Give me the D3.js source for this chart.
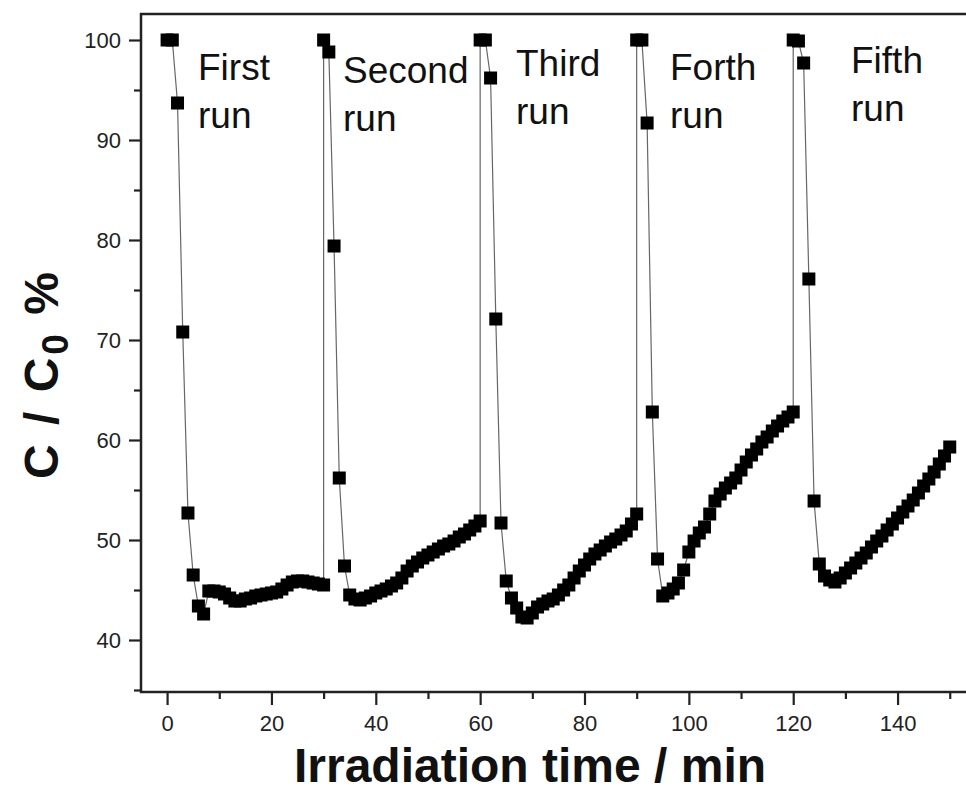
<!DOCTYPE html>
<html lang="en">
<head>
<meta charset="UTF-8">
<title>Irradiation cycles</title>
<script src="https://d3js.org/d3.v7.min.js"></script>
<style>
    body { margin: 0; padding: 0; background: #fff; }
    svg { display: block; font-family: Arial, "Liberation Sans", sans-serif; }
    .tick-label { font-size: 22px; fill: #222; }
    .run-label { font-size: 37px; fill: #111; }
    .axis-title { font-size: 48px; font-weight: bold; fill: #111; }
</style>
</head>
<body>
<div id="chart"></div>
<script>
// C/C0 (%) sampled every minute, 31 samples per run (t = 0..30 within the run)
const run1 = [100, 100, 93.7, 70.8, 52.7, 46.5, 43.4, 42.6, 44.9, 44.9, 44.8, 44.6, 44.2, 43.9, 43.9, 44.1,
              44.2, 44.4, 44.5, 44.6, 44.7, 44.8, 45.1, 45.5, 45.8, 45.9, 45.9, 45.8, 45.7, 45.6, 45.5];
const run2 = [100, 98.8, 79.4, 56.2, 47.4, 44.5, 44.1, 44.0, 44.2, 44.4, 44.7, 44.9, 45.1, 45.4, 45.7, 46.2,
              46.9, 47.4, 47.8, 48.2, 48.5, 48.8, 49.1, 49.4, 49.6, 49.9, 50.3, 50.6, 51.0, 51.4, 51.9];
const run3 = [100, 100, 96.2, 72.1, 51.7, 45.9, 44.2, 43.2, 42.3, 42.2, 42.7, 43.3, 43.6, 43.9, 44.1, 44.5,
              45.0, 45.5, 46.2, 46.9, 47.5, 48.1, 48.6, 49.0, 49.4, 49.8, 50.1, 50.5, 50.9, 51.6, 52.6];
const run4 = [100, 100, 91.7, 62.8, 48.1, 44.4, 44.7, 45.1, 45.7, 47.0, 48.8, 49.9, 50.7, 51.3, 52.6, 53.9,
              54.6, 55.2, 55.7, 56.2, 57.0, 57.8, 58.5, 59.1, 59.8, 60.3, 60.9, 61.4, 61.9, 62.3, 62.8];
const run5 = [100, 99.9, 97.7, 76.1, 53.9, 47.6, 46.4, 46.0, 45.8, 46.2, 46.7, 47.2, 47.7, 48.2, 48.7, 49.3,
              49.9, 50.4, 51.0, 51.6, 52.2, 52.8, 53.4, 54.0, 54.7, 55.4, 56.1, 56.8, 57.6, 58.4, 59.3];
const runs = [run1, run2, run3, run4, run5];
const runLength = 30; // minutes per run
const runLabels = [["First", "run"], ["Second", "run"], ["Third", "run"], ["Forth", "run"], ["Fifth", "run"]];
const xTicks = [0, 20, 40, 60, 80, 100, 120, 140];
const yTicks = [40, 50, 60, 70, 80, 90, 100];

const width = 966, height = 793;
const margin = { left: 141, top: 14, right: -2, bottom: 101 };

const svg = d3.select("#chart").append("svg")
    .attr("width", width)
    .attr("height", height);

const x = d3.scaleLinear()
    .domain([-5, 153.5])
    .range([margin.left, width - margin.right]);
const y = d3.scaleLinear()
    .domain([34.8, 102.6])
    .range([height - margin.bottom, margin.top]);

// flatten runs into one time series
const points = [];
runs.forEach((vals, k) => {
    vals.forEach((v, i) => points.push({ t: k * runLength + i, v: v }));
});

// axes
const xAxis = d3.axisBottom(x).tickValues(xTicks).tickSize(13).tickPadding(10).tickSizeOuter(0);
const xMinor = d3.axisBottom(x).tickValues(d3.range(10, 151, 20)).tickSize(7).tickFormat("").tickSizeOuter(0);
const yAxis = d3.axisLeft(y).tickValues(yTicks).tickSize(12).tickPadding(8).tickSizeOuter(0);
const yMinor = d3.axisLeft(y).tickValues(d3.range(35, 101, 10)).tickSize(7).tickFormat("").tickSizeOuter(0);

const gx = svg.append("g").attr("transform", `translate(0,${y.range()[0]})`);
gx.call(xAxis);
gx.append("g").call(xMinor);
const gy = svg.append("g").attr("transform", `translate(${x.range()[0]},0)`);
gy.call(yAxis);
gy.append("g").call(yMinor);

svg.selectAll(".domain").remove();
svg.selectAll(".tick line").attr("stroke", "#222").attr("stroke-width", 2.2);
svg.selectAll(".tick text").attr("class", "tick-label").attr("font-family", null).attr("font-size", null);

// frame
svg.append("rect")
    .attr("x", x.range()[0])
    .attr("y", y.range()[1])
    .attr("width", x.range()[1] - x.range()[0])
    .attr("height", y.range()[0] - y.range()[1])
    .attr("fill", "none")
    .attr("stroke", "#222")
    .attr("stroke-width", 2.5);

// connecting line
const line = d3.line().x(d => x(d.t)).y(d => y(d.v));
svg.append("path")
    .datum(points)
    .attr("d", line)
    .attr("fill", "none")
    .attr("stroke", "#666")
    .attr("stroke-width", 1.2);

// square markers
const ms = 13;
svg.append("g").selectAll("rect")
    .data(points)
    .join("rect")
    .attr("x", d => x(d.t) - ms / 2)
    .attr("y", d => y(d.v) - ms / 2)
    .attr("width", ms)
    .attr("height", ms)
    .attr("fill", "#000");

// run labels
const labelPos = [[198, 80], [343, 83], [516, 76], [670, 80], [851, 73]];
runLabels.forEach((lines, k) => {
    const t = svg.append("text").attr("class", "run-label")
        .attr("x", labelPos[k][0]).attr("y", labelPos[k][1]);
    lines.forEach((s, j) => {
        t.append("tspan").attr("x", labelPos[k][0]).attr("dy", j === 0 ? 0 : 48).text(s);
    });
});

// axis titles
svg.append("text").attr("class", "axis-title")
    .attr("x", 530).attr("y", 782)
    .attr("text-anchor", "middle")
    .text("Irradiation time / min");

const yt = svg.append("text").attr("class", "axis-title")
    .attr("transform", "translate(58,374) rotate(-90)")
    .attr("text-anchor", "middle")
    .attr("font-size", 52)
    .attr("letter-spacing", 3);
yt.append("tspan").text("C / C");
yt.append("tspan").attr("font-size", 37).attr("dy", 10).text("0");
yt.append("tspan").attr("dy", -10).text(" %");
</script>
</body>
</html>
